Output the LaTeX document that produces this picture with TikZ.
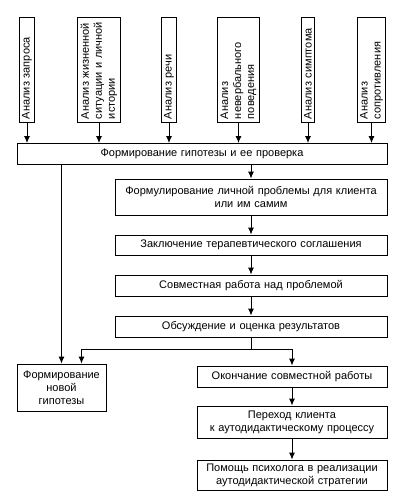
\documentclass[tikz,border=0pt]{standalone}
\usepackage{fontspec}
\setmainfont{Liberation Sans}
\usetikzlibrary{arrows.meta}
\begin{document}
\begin{tikzpicture}[x=1pt,y=-1pt,>={Latex[length=7pt,width=6pt]},line width=0.9pt,
    font=\fontsize{11}{13}\selectfont,
    vbox/.style={draw,rotate=90,text width=99pt,align=left,inner sep=3pt},
    hbox/.style={draw,align=center,inner sep=3pt,minimum height=#1},
    hbox/.default=21pt]
      \useasboundingbox (0,0) rectangle (413,504);
      \node[vbox] (a1) at (27,69.5) {Анализ запроса};
      \node[vbox] (a2) at (99,69.5) {Анализ жизненной\\ситуации и личной\\истории};
      \node[vbox] (a3) at (169,69.5) {Анализ речи};
      \node[vbox] (a4) at (238.5,69.5) {Анализ\\невербального\\поведения};
      \node[vbox] (a5) at (308,69.5) {Анализ симптома};
      \node[vbox] (a6) at (371.5,69.5) {Анализ\\сопротивления};
      \node[hbox,text width=364pt] (hyp) at (202,154) {Формирование гипотезы и ее проверка};
      \node[hbox=36pt,text width=266pt] (prob) at (251,197) {Формулирование личной проблемы для клиента\\или им самим};
      \node[hbox=20pt,text width=266pt] (agree) at (251,245) {Заключение терапевтического соглашения};
      \node[hbox,text width=266pt] (work) at (251,285.5) {Совместная работа над проблемой};
      \node[hbox,text width=266pt] (eval) at (251,326.5) {Обсуждение и оценка результатов};
      \node[hbox=47pt,text width=83pt] (newhyp) at (61.5,387.5) {Формирование\\новой\\гипотезы};
      \node[hbox,text width=184pt] (end) at (292,376.5) {Окончание совместной работы};
      \node[hbox=32pt,text width=184pt] (trans) at (292,422) {Переход клиента\\к аутодидактическому процессу};
      \node[hbox=30pt,text width=184pt] (help) at (292,475) {Помощь психолога в реализации\\аутодидактической стратегии};
      \coordinate (split) at (251,349);
      \foreach \i in {1,...,6}
        \draw[->] (a\i) -- (a\i |- hyp.north);
      \draw[->] (prob |- hyp.south) -- (prob);
      \draw[->] (prob) -- (agree);
      \draw[->] (agree) -- (work);
      \draw[->] (work) -- (eval);
      \draw (eval) -- (split);
      \draw[->] (split) -| ([xshift=20pt]newhyp.north);
      \draw[->] (split) -| (end);
      \draw[->] (hyp.south -| newhyp) -- (newhyp);
      \draw[->] (end) -- (trans);
      \draw[->] (trans) -- (help);
    \end{tikzpicture}
\end{document}
